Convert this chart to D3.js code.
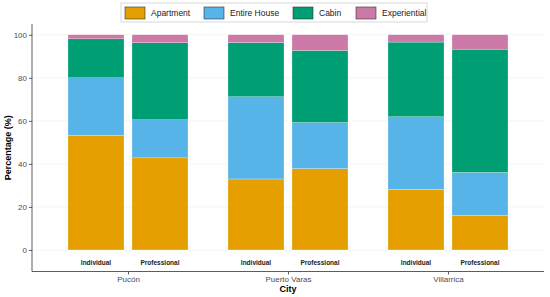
<!DOCTYPE html>
<html>
<head>
<meta charset="utf-8">
<script src="https://cdn.jsdelivr.net/npm/d3@7"></script>
<style>
  body { margin: 0; background: #fff; }
  text { font-family: "Liberation Sans", Arial, sans-serif; }
</style>
</head>
<body>
<div id="chart"></div>
<script>
const cities = ["Pucón", "Puerto Varas", "Villarrica"];
const hostTypes = ["Individual", "Professional"];
const types = ["Apartment", "Entire House", "Cabin", "Experiential"];
const colors = ["#E69F00", "#56B4E9", "#009E73", "#CC79A7"];
const yTicks = [0, 20, 40, 60, 80, 100];

// percentages per type, order: Pucón Ind, Pucón Prof, PV Ind, PV Prof, Vill Ind, Vill Prof
const apartment   = [53.3, 42.8, 33.0, 37.8, 28.2, 16.1];
const entireHouse = [26.7, 17.7, 38.2, 21.4, 33.7, 19.9];
const cabin       = [18.1, 35.8, 25.2, 33.5, 34.7, 57.3];
const experiential= [1.9, 3.7, 3.6, 7.3, 3.4, 6.7];

const width = 550, height = 297;
const svg = d3.select("#chart").append("svg")
  .attr("width", width)
  .attr("height", height);

// posiciones como ggplot: 1..3 con expansion 0.6
const x = d3.scaleLinear().domain([0.4, 3.6]).range([32, 544]);
const y = d3.scaleLinear().domain([-10, 105]).range([271.5, 24]);

// grille
svg.append("g").selectAll("line")
  .data(yTicks)
  .join("line")
  .attr("x1", 32).attr("x2", 544)
  .attr("y1", d => y(d)).attr("y2", d => y(d))
  .attr("stroke", "#ebebeb")
  .attr("stroke-width", 0.5);

// barres empilees
const series = [apartment, entireHouse, cabin, experiential];
const rows = [];
cities.forEach((c, ci) => {
  hostTypes.forEach((h, hi) => {
    const idx = ci * 2 + hi;
    let acc = 0;
    series.forEach((s, ti) => {
      rows.push({ ci, hi, ti, y0: acc, y1: acc + s[idx] });
      acc += s[idx];
    });
  });
});

const barW = 0.35;
svg.append("g").selectAll("rect")
  .data(rows)
  .join("rect")
  .attr("x", d => x(d.ci + 1 + (d.hi === 0 ? -0.2 : 0.2) - barW / 2))
  .attr("width", x(barW) - x(0))
  .attr("y", d => y(d.y1))
  .attr("height", d => y(d.y0) - y(d.y1))
  .attr("fill", d => colors[d.ti])
  .attr("stroke", "#ffffff")
  .attr("stroke-opacity", 0.6)
  .attr("stroke-width", 0.4);

// etiquettes des barres
const labels = [];
cities.forEach((c, ci) => hostTypes.forEach((h, hi) => labels.push({ ci, hi, h })));
svg.append("g").selectAll("text")
  .data(labels)
  .join("text")
  .attr("x", d => x(d.ci + 1 + (d.hi === 0 ? -0.2 : 0.2)))
  .attr("y", y(-6))
  .attr("dy", "0.35em")
  .attr("text-anchor", "middle")
  .style("font-size", "6.5px")
  .style("font-weight", "bold")
  .attr("fill", "#1a1a1a")
  .text(d => d.h);

// axes
const yAxis = d3.axisLeft(y).tickValues(yTicks).tickSize(3).tickPadding(2);
const gy = svg.append("g").attr("transform", "translate(32,0)").call(yAxis);
gy.select(".domain").attr("d", `M0,${y(105)}V${y(-10)}`).attr("stroke", "#333").attr("stroke-width", 0.8);
gy.selectAll(".tick line").attr("stroke", "#333").attr("stroke-width", 0.8);
gy.selectAll(".tick text").style("font-size", "8px").attr("fill", "#4d4d4d")
  .style("font-family", "Liberation Sans, Arial, sans-serif");

const xAxis = d3.axisBottom(x).tickValues([1, 2, 3]).tickFormat(d => cities[d - 1]).tickSize(3).tickPadding(2);
const gx = svg.append("g").attr("transform", `translate(0,${y(-10)})`).call(xAxis);
gx.select(".domain").attr("d", `M32,0H544`).attr("stroke", "#333").attr("stroke-width", 0.8);
gx.selectAll(".tick line").attr("stroke", "#333").attr("stroke-width", 0.8);
gx.selectAll(".tick text").style("font-size", "8px").attr("fill", "#4d4d4d")
  .style("font-family", "Liberation Sans, Arial, sans-serif");

// titres des axes
svg.append("text")
  .attr("x", x(2)).attr("y", 292)
  .attr("text-anchor", "middle")
  .style("font-size", "9px").style("font-weight", "bold")
  .text("City");

svg.append("text")
  .attr("transform", "rotate(-90)")
  .attr("x", -y(47.5)).attr("y", 11)
  .attr("text-anchor", "middle")
  .style("font-size", "9px").style("font-weight", "bold")
  .text("Percentage (%)");

// legende
const legend = svg.append("g");
legend.append("rect")
  .attr("x", 121).attr("y", 3).attr("width", 306).attr("height", 19)
  .attr("fill", "#fff").attr("stroke", "#cfcfcf").attr("stroke-width", 0.8);
const keyX = [125, 204, 293, 356];
const item = legend.selectAll("g.item")
  .data(types)
  .join("g")
  .attr("transform", (d, i) => `translate(${keyX[i]},7)`);
item.append("rect")
  .attr("width", 20).attr("height", 12)
  .attr("fill", (d, i) => colors[i])
  .attr("stroke", "#333").attr("stroke-width", 0.6);
item.append("text")
  .attr("x", 26).attr("y", 6).attr("dy", "0.35em")
  .style("font-size", "8.5px").attr("fill", "#1a1a1a")
  .text(d => d);
</script>
</body>
</html>
